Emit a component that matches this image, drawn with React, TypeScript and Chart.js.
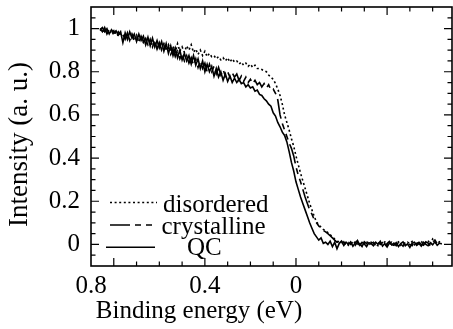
import React, { useEffect, useRef } from 'react';
import { Chart, registerables } from 'chart.js';

Chart.register(...registerables);

// Binding energy grid (eV), 0.86 down to -0.64
const ENERGY = [
  0.86, 0.85, 0.84, 0.83, 0.82, 0.81, 0.8, 0.79, 0.78, 0.77,
  0.76, 0.75, 0.74, 0.73, 0.72, 0.71, 0.7, 0.69, 0.68, 0.67,
  0.66, 0.65, 0.64, 0.63, 0.62, 0.61, 0.6, 0.59, 0.58, 0.57,
  0.56, 0.55, 0.54, 0.53, 0.52, 0.51, 0.5, 0.49, 0.48, 0.47,
  0.46, 0.45, 0.44, 0.43, 0.42, 0.41, 0.4, 0.39, 0.38, 0.37,
  0.36, 0.35, 0.34, 0.33, 0.32, 0.31, 0.3, 0.29, 0.28, 0.27,
  0.26, 0.25, 0.24, 0.23, 0.22, 0.21, 0.2, 0.19, 0.18, 0.17,
  0.16, 0.15, 0.14, 0.13, 0.12, 0.11, 0.1, 0.09, 0.08, 0.07,
  0.06, 0.05, 0.04, 0.03, 0.02, 0.01, 0.0, -0.01, -0.02, -0.03,
  -0.04, -0.05, -0.06, -0.07, -0.08, -0.09, -0.1, -0.11, -0.12, -0.13,
  -0.14, -0.15, -0.16, -0.17, -0.18, -0.19, -0.2, -0.21, -0.22, -0.23,
  -0.24, -0.25, -0.26, -0.27, -0.28, -0.29, -0.3, -0.31, -0.32, -0.33,
  -0.34, -0.35, -0.36, -0.37, -0.38, -0.39, -0.4, -0.41, -0.42, -0.43,
  -0.44, -0.45, -0.46, -0.47, -0.48, -0.49, -0.5, -0.51, -0.52, -0.53,
  -0.54, -0.55, -0.56, -0.57, -0.58, -0.59, -0.6, -0.61, -0.62, -0.63,
  -0.64,
];

const DISORDERED = [
  0.99, 1.0, 0.98, 0.995, 0.975, 0.99, 0.97, 0.985, 0.965, 0.98,
  0.97, 0.955, 0.975, 0.95, 0.97, 0.945, 0.965, 0.94, 0.96, 0.935,
  0.95, 0.925, 0.945, 0.92, 0.94, 0.91, 0.935, 0.905, 0.93, 0.9,
  0.925, 0.895, 0.92, 0.89, 0.93, 0.895, 0.915, 0.89, 0.92, 0.9,
  0.925, 0.89, 0.905, 0.88, 0.9, 0.875, 0.895, 0.87, 0.885, 0.87,
  0.875, 0.86, 0.87, 0.855, 0.865, 0.85, 0.865, 0.845, 0.86, 0.845,
  0.85, 0.835, 0.845, 0.83, 0.84, 0.825, 0.835, 0.82, 0.83, 0.815,
  0.815, 0.81, 0.805, 0.8, 0.785, 0.775, 0.765, 0.745, 0.72, 0.69,
  0.65, 0.6, 0.565, 0.53, 0.49, 0.455, 0.41, 0.37, 0.33, 0.295,
  0.26, 0.225, 0.19, 0.16, 0.13, 0.105, 0.09, 0.08, 0.07, 0.062,
  0.055, 0.045, 0.035, 0.025, 0.015, 0.008, 0.014, 0.004, 0.01, -0.004,
  0.008, 0.0, 0.012, 0.004, -0.006, 0.01, 0.002, 0.014, -0.002, 0.006,
  0.01, 0.0, -0.006, 0.008, 0.004, 0.012, -0.004, 0.006, 0.01, 0.0,
  0.004, 0.012, -0.004, 0.006, 0.0, 0.01, 0.004, 0.014, -0.002, 0.008,
  0.006, 0.014, 0.002, 0.008, 0.018, 0.0, 0.025, 0.01, 0.004, 0.012,
  0.006,
];

const CRYSTALLINE = [
  1.0, 0.985, 1.005, 0.975, 0.995, 0.98, 0.99, 0.965, 0.985, 0.97,
  0.975, 0.95, 0.98, 0.945, 0.975, 0.95, 0.97, 0.935, 0.965, 0.94,
  0.955, 0.92, 0.95, 0.915, 0.945, 0.905, 0.935, 0.9, 0.925, 0.89,
  0.915, 0.88, 0.905, 0.87, 0.895, 0.86, 0.885, 0.85, 0.875, 0.84,
  0.865, 0.83, 0.86, 0.82, 0.85, 0.815, 0.84, 0.8, 0.835, 0.8,
  0.825, 0.79, 0.82, 0.785, 0.81, 0.78, 0.8, 0.775, 0.795, 0.775,
  0.79, 0.76, 0.78, 0.755, 0.775, 0.75, 0.765, 0.745, 0.76, 0.74,
  0.75, 0.73, 0.745, 0.725, 0.74, 0.715, 0.72, 0.7, 0.67, 0.6,
  0.56, 0.53, 0.5, 0.47, 0.445, 0.41, 0.36, 0.32, 0.29, 0.255,
  0.22, 0.19, 0.16, 0.14, 0.115, 0.1, 0.085, 0.075, 0.065, 0.058,
  0.05, 0.04, 0.03, 0.02, 0.01, 0.015, 0.0, 0.012, -0.006, 0.008,
  0.0, 0.014, -0.004, 0.01, 0.002, -0.01, 0.012, 0.004, -0.006, 0.01,
  0.006, -0.004, 0.012, 0.0, 0.008, -0.01, 0.004, 0.014, -0.002, 0.006,
  -0.006, 0.01, 0.002, -0.008, 0.012, 0.004, 0.0, -0.006, 0.016, 0.002,
  0.01, 0.0, -0.004, 0.012, 0.006, -0.006, 0.01, 0.02, 0.004, 0.008,
  0.004,
];

const QC = [
  0.995, 1.005, 0.985, 1.0, 0.975, 0.995, 0.98, 0.99, 0.97, 0.985,
  0.935, 0.98, 0.95, 0.985, 0.955, 0.975, 0.94, 0.975, 0.945, 0.965,
  0.925, 0.96, 0.92, 0.955, 0.915, 0.945, 0.91, 0.94, 0.895, 0.93,
  0.885, 0.92, 0.875, 0.91, 0.865, 0.9, 0.855, 0.885, 0.85, 0.875,
  0.835, 0.875, 0.83, 0.86, 0.815, 0.85, 0.8, 0.835, 0.8, 0.825,
  0.78, 0.815, 0.775, 0.8, 0.76, 0.79, 0.755, 0.78, 0.75, 0.77,
  0.75, 0.765, 0.745, 0.75, 0.73, 0.74, 0.725, 0.73, 0.71, 0.715,
  0.695, 0.69, 0.675, 0.665, 0.65, 0.64, 0.61, 0.595, 0.565, 0.545,
  0.52, 0.505, 0.475, 0.43, 0.38, 0.34, 0.29, 0.255, 0.22, 0.19,
  0.16, 0.13, 0.1, 0.075, 0.05, 0.035, 0.02, 0.03, 0.005, 0.01,
  0.0, 0.015, -0.01, 0.01, -0.02, 0.005, 0.015, -0.005, 0.01, 0.0,
  0.012, -0.008, 0.006, 0.018, -0.004, 0.01, 0.002, -0.01, 0.008, 0.004,
  -0.006, 0.01, 0.0, 0.014, -0.008, 0.004, -0.012, 0.006, 0.0, -0.004,
  0.008, -0.01, 0.004, 0.012, -0.006, 0.002, -0.014, 0.006, 0.01, -0.004,
  0.004, -0.008, 0.01, 0.0, -0.006, 0.008, -0.002, 0.012, -0.004, 0.006,
  0.002,
];

const SERIES_LABELS = ['disordered', 'crystalline', 'QC'];
const SERIES_DASH = [[2, 2.6], [20, 5, 6, 5, 6, 5], []];

const X_TITLE = 'Binding energy (eV)';
const Y_TITLE = 'Intensity (a. u.)';

const X_MIN = -0.685;
const X_MAX = 0.9;
const Y_MIN = -0.1;
const Y_MAX = 1.1;

const X_LABEL_POS = [0.9, 0.4, 0];
const X_TICK_LABELS = ['0.8', '0.4', '0'];
const X_MINOR = [0.8, 0.7, 0.6, 0.5, 0.4, 0.3, 0.2, 0.1, 0, -0.1, -0.2, -0.3, -0.4, -0.5, -0.6];
const X_MAJOR = [0.8, 0.4, 0, -0.4];

const Y_LABEL_POS = [0, 0.2, 0.4, 0.6, 0.8, 1];
const Y_TICK_LABELS = ['0', '0.2', '0.4', '0.6', '0.8', '1'];
const Y_MINOR = [-0.05, 0.05, 0.1, 0.15, 0.25, 0.3, 0.35, 0.45, 0.5, 0.55, 0.65, 0.7, 0.75, 0.85, 0.9, 0.95, 1.05];

const FONT = 'Liberation Serif';

const framePlugin = {
  id: 'frameTicks',
  afterDatasetsDraw(chart: any) {
    const { ctx, chartArea, scales } = chart;
    const { left, right, top, bottom } = chartArea;
    const xs = scales.x;
    const ys = scales.y;
    ctx.save();
    ctx.strokeStyle = '#000';
    ctx.lineWidth = 1.2;
    ctx.beginPath();
    const tick = (v: number, major: boolean, horiz: boolean) => {
      const len = major ? 8 : 4.5;
      if (horiz) {
        const p = xs.getPixelForValue(v);
        ctx.moveTo(p, bottom); ctx.lineTo(p, bottom - len);
        ctx.moveTo(p, top); ctx.lineTo(p, top + len);
      } else {
        const p = ys.getPixelForValue(v);
        ctx.moveTo(left, p); ctx.lineTo(left + len, p);
        ctx.moveTo(right, p); ctx.lineTo(right - len, p);
      }
    };
    X_MINOR.forEach((v) => tick(v, X_MAJOR.includes(v), true));
    Y_LABEL_POS.forEach((v) => tick(v, true, false));
    Y_MINOR.forEach((v) => tick(v, false, false));
    ctx.stroke();
    ctx.lineWidth = 1.6;
    ctx.strokeRect(left, top, right - left, bottom - top);
    ctx.restore();
  },
};

const textPlugin = {
  id: 'legendAndTitles',
  afterDraw(chart: any) {
    const { ctx } = chart;
    const rows = [
      { x1: 110, x2: 157, ly: 202.5, tx: 163, ty: 211.5 },
      { x1: 110, x2: 154, ly: 225, tx: 161.5, ty: 233.5 },
      { x1: 106, x2: 155, ly: 247.3, tx: 187, ty: 255 },
    ];
    ctx.save();
    ctx.fillStyle = '#000';
    chart.data.datasets.forEach((ds: any, i: number) => {
      const r = rows[i];
      ctx.strokeStyle = '#000';
      ctx.lineWidth = ds.borderWidth;
      ctx.setLineDash(ds.borderDash || []);
      ctx.beginPath();
      ctx.moveTo(r.x1, r.ly);
      ctx.lineTo(r.x2, r.ly);
      ctx.stroke();
      ctx.setLineDash([]);
      ctx.font = `25px "${FONT}"`;
      ctx.textAlign = 'left';
      ctx.textBaseline = 'alphabetic';
      ctx.fillText(ds.label, r.tx, r.ty);
    });
    // axis titles
    ctx.font = `25px "${FONT}"`;
    ctx.textAlign = 'center';
    ctx.textBaseline = 'alphabetic';
    ctx.fillText(X_TITLE, 199, 318);
    ctx.translate(27, 144.5);
    ctx.rotate(-Math.PI / 2);
    ctx.font = `27px "${FONT}"`;
    ctx.fillText(Y_TITLE, 0, 0);
    ctx.restore();
  },
};

export default function App() {
  const ref = useRef<HTMLCanvasElement | null>(null);
  useEffect(() => {
    document.body.style.margin = '0';
    if (!ref.current) return;
    const series = [DISORDERED, CRYSTALLINE, QC];
    const chart = new Chart(ref.current, {
      type: 'line',
      data: {
        datasets: series.map((s, k) => ({
          label: SERIES_LABELS[k],
          data: ENERGY.map((e, i) => ({ x: e, y: s[i] })),
          borderColor: '#000',
          borderWidth: 1.6,
          borderDash: SERIES_DASH[k],
          pointRadius: 0,
          tension: 0,
          fill: false,
        })),
      },
      options: {
        animation: false,
        responsive: false,
        layout: { padding: { top: 7, right: 1, left: 0, bottom: 0 } },
        plugins: { legend: { display: false }, tooltip: { enabled: false } },
        scales: {
          x: {
            type: 'linear',
            reverse: true,
            min: X_MIN,
            max: X_MAX,
            grid: { display: false, drawTicks: false },
            border: { display: false },
            afterBuildTicks: (s: any) => {
              s.ticks = X_LABEL_POS.map((v) => ({ value: v }));
            },
            afterFit: (s: any) => {
              s.height = 63;
              s.paddingLeft = 0;
              s.paddingRight = 0;
            },
            ticks: {
              autoSkip: false,
              maxRotation: 0,
              padding: 5,
              color: '#000',
              font: { family: FONT, size: 25 },
              callback: (v: any) => {
                const i = X_LABEL_POS.indexOf(Number(v));
                return i >= 0 ? X_TICK_LABELS[i] : '';
              },
            },
          },
          y: {
            type: 'linear',
            min: Y_MIN,
            max: Y_MAX,
            grid: { display: false, drawTicks: false },
            border: { display: false },
            afterBuildTicks: (s: any) => {
              s.ticks = Y_LABEL_POS.map((v) => ({ value: v }));
            },
            afterFit: (s: any) => {
              s.width = 91;
              s.paddingTop = 0;
              s.paddingBottom = 0;
            },
            ticks: {
              autoSkip: false,
              padding: 11,
              color: '#000',
              font: { family: FONT, size: 25 },
              callback: (v: any) => {
                const i = Y_LABEL_POS.indexOf(Number(v));
                return i >= 0 ? Y_TICK_LABELS[i] : '';
              },
            },
          },
        },
      },
      plugins: [framePlugin, textPlugin],
    });
    return () => chart.destroy();
  }, []);
  return (
    <div style={{ width: 453, height: 329 }}>
      <canvas ref={ref} width={453} height={329} />
    </div>
  );
}
